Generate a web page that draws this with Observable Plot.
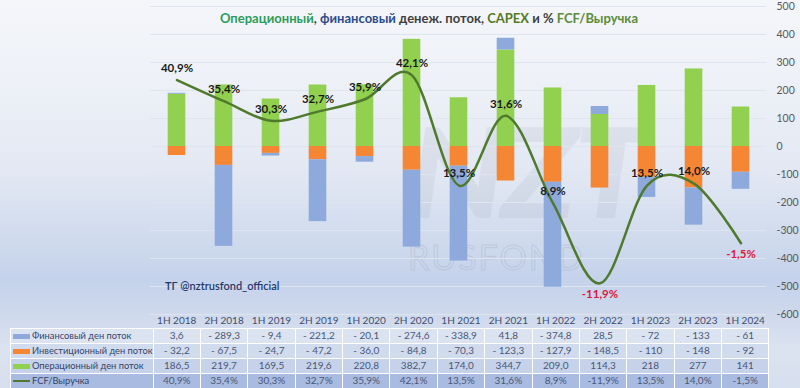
<!DOCTYPE html>
<html><head><meta charset="utf-8">
<script src="https://cdn.jsdelivr.net/npm/d3@7"></script>
<script src="https://cdn.jsdelivr.net/npm/@observablehq/plot@0.6"></script>
<style>
body{margin:0;}
#wrap{position:relative;width:800px;height:388px;overflow:hidden;font-family:Lato,"Open Sans",sans-serif;
background:linear-gradient(180deg,#f4f6fa 0%,#eef1f7 20%,#e2e8f3 45%,#cfdaed 62%,#c4d2eb 72%,#cdd8ec 80%,#dce3f0 90%,#d6dfee 100%);}
#chart{position:absolute;left:0;top:0;}
#title{position:absolute;top:10px;left:14px;width:830px;text-align:center;font-weight:bold;font-size:13px;white-space:nowrap;}
#note{position:absolute;left:165px;top:279px;font-size:11px;color:#26386a;font-weight:600;}
#wm1{position:absolute;left:410px;top:95px;font-size:125px;font-weight:900;color:#7d8797;opacity:0.10;letter-spacing:-4px;transform:skewX(-8deg);}
#wm2{position:absolute;left:408px;top:236px;font-size:34px;color:transparent;-webkit-text-stroke:1px rgba(150,160,175,0.3);letter-spacing:2px;}
table{position:absolute;left:10px;top:313px;border-collapse:collapse;table-layout:fixed;font-size:10px;color:#4a5877;}
td{padding:0;text-align:center;white-space:nowrap;overflow:hidden;box-sizing:border-box;}
tr.h td{height:15px;line-height:14px;color:#3f4d6d;}
tr.r td{border:1px solid #ffffff;height:15px;line-height:13px;}
tr.r td.lab{text-align:left;color:#34446a;font-size:9.3px;}
.sw{display:inline-block;width:17px;height:5px;margin:0 2px 1px 2px;vertical-align:middle;}
.swl{display:inline-block;width:17px;height:2px;margin:0 2px 1px 2px;vertical-align:middle;background:#4f7a2e;}
</style></head>
<body>
<div id="wrap">
  <div id="wm1">NZT</div>
  <div id="wm2">RUSFOND</div>
  <div id="chart"></div>
  <div id="title"><span style="color:#2e9c5a">Операционный</span><span style="color:#404040">, </span><span style="color:#2f4c8a">финансовый</span><span style="color:#404040"> денеж. поток, </span><span style="color:#557a1f">CAPEX</span><span style="color:#404040"> и % </span><span style="color:#5b8c3a">FCF/Выручка</span></div>
  <div id="note">ТГ @nztrusfond_official</div>
</div>
<script>
const periods = ["1H 2018","2H 2018","1H 2019","2H 2019","1H 2020","2H 2020","1H 2021","2H 2021","1H 2022","2H 2022","1H 2023","2H 2023","1H 2024"];
const financing = [3.6,-289.3,-9.4,-221.2,-20.1,-274.6,-338.9,41.8,-374.8,28.5,-72,-133,-61];
const investing = [-32.2,-67.5,-24.7,-47.2,-36.0,-84.8,-70.3,-123.3,-127.9,-148.5,-110,-148,-92];
const operating = [186.5,219.7,169.5,219.6,220.8,382.7,174.0,344.7,209.0,114.3,218,277,141];
const fcfMargin = [40.9,35.4,30.3,32.7,35.9,42.1,13.5,31.6,8.9,-11.9,13.5,14.0,-1.5];
const tableDecimals = [1,1,1,1,1,1,1,1,1,1,0,0,0];
const seriesNames = ["Финансовый ден поток","Инвестиционный ден поток","Операционный ден поток","FCF/Выручка"];
const yTicks = [500,400,300,200,100,0,-100,-200,-300,-400,-500,-600];

const colors = {op:"#92d050", inv:"#f58634", fin:"#8eaadc", line:"#4f7a2e"};

// long data in stacking order: operating, investing, financing
const bars = [];
periods.forEach((p,i)=>{
  bars.push({period:p, series:"op", value:operating[i]});
  bars.push({period:p, series:"inv", value:investing[i]});
  bars.push({period:p, series:"fin", value:financing[i]});
});
const fcf = periods.map((p,i)=>({period:p, pct:fcfMargin[i]}));
// secondary axis (-20%..60%) mapped onto primary (-600..500)
const secondary = d3.scaleLinear().domain([-20,60]).range([-600,500]);
const pctFmt = v => v.toFixed(1).replace(".",",") + "%";

const chart = Plot.plot({
  width:800, height:318,
  marginTop:6, marginBottom:4, marginLeft:150, marginRight:34,
  style:{background:"transparent", fontFamily:"Lato, 'Open Sans', sans-serif", overflow:"visible"},
  x:{domain:periods, padding:0, axis:null},
  y:{domain:[-600,500], label:null},
  color:{domain:["op","inv","fin"], range:[colors.op, colors.inv, colors.fin]},
  marks:[
    Plot.ruleY(yTicks, {stroke:"#dfe5ef", strokeWidth:1}),
    Plot.axisY(yTicks, {anchor:"right", label:null, tickSize:0, tickPadding:10, fontSize:10.5, fill:"#595959", tickFormat:d=>String(d)}),
    Plot.barY(bars, Plot.stackY({x:"period", y:"value", fill:"series", insetLeft:14.7, insetRight:14.7})),
    Plot.line(fcf, {x:"period", y:d=>secondary(d.pct), stroke:colors.line, strokeWidth:2.5, curve:"cardinal"}),
    Plot.text(fcf.filter(d=>d.pct>=0), {x:"period", y:d=>secondary(d.pct), text:d=>pctFmt(d.pct), dy:-12, fontSize:11.5, fontWeight:"bold", fill:"#1a1a1a"}),
    Plot.text(fcf.filter(d=>d.pct<0), {x:"period", y:d=>secondary(d.pct), text:d=>pctFmt(d.pct), dy:11, fontSize:11.5, fontWeight:"bold", fill:"#e0173a"})
  ]
});
document.getElementById("chart").appendChild(chart);

// data table
const fmt = (v,dec) => (v<0?"- ":"") + Math.abs(v).toFixed(dec).replace(".",",");
const colW = 616/periods.length;
let html = '<table><colgroup><col style="width:140px">' + periods.map(()=>`<col style="width:${colW}px">`).join("") + '</colgroup>';
html += '<tr class="h"><td></td>' + periods.map(p=>`<td>${p}</td>`).join("") + '</tr>';
const rowBg = ["#dbe3f1","#d1dbee","#c5d2ea","#a9bbe0"];
const rows = [
  {name:seriesNames[0], sw:`<span class="sw" style="background:${colors.fin}"></span>`, vals:financing.map((v,i)=>fmt(v,tableDecimals[i]))},
  {name:seriesNames[1], sw:`<span class="sw" style="background:${colors.inv}"></span>`, vals:investing.map((v,i)=>fmt(v,tableDecimals[i]))},
  {name:seriesNames[2], sw:`<span class="sw" style="background:${colors.op}"></span>`, vals:operating.map((v,i)=>fmt(v,tableDecimals[i]))},
  {name:seriesNames[3], sw:`<span class="swl"></span>`, vals:fcfMargin.map(pctFmt)}
];
rows.forEach((r,k)=>{
  html += `<tr class="r" style="background:${rowBg[k]}"><td class="lab">${r.sw}${r.name}</td>` + r.vals.map(v=>`<td>${v}</td>`).join("") + '</tr>';
});
html += '</table>';
document.getElementById("wrap").insertAdjacentHTML("beforeend", html);
</script>
</body></html>
